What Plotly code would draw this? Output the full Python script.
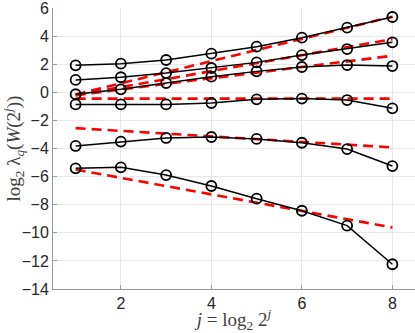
import plotly.graph_objects as go

# scale index j
j = [1, 2, 3, 4, 5, 6, 7, 8]

# log2 eigenvalues per q (top to bottom)
lam_1 = [1.92, 2.04, 2.30, 2.75, 3.25, 3.89, 4.60, 5.36]
lam_2 = [0.88, 1.07, 1.37, 1.73, 2.13, 2.65, 3.08, 3.56]
lam_3 = [-0.14, 0.21, 0.66, 1.11, 1.49, 1.80, 1.94, 1.87]
lam_4 = [-0.86, -0.86, -0.86, -0.76, -0.50, -0.45, -0.55, -1.14]
lam_5 = [-3.82, -3.51, -3.25, -3.18, -3.32, -3.59, -4.04, -5.25]
lam_6 = [-5.41, -5.34, -5.89, -6.67, -7.57, -8.43, -9.49, -12.24]

# linear fits: value at j=1 and j=8
fit_j = [1, 8]
fit_1 = [-0.15, 5.38]
fit_2 = [-0.2, 3.78]
fit_3 = [-0.2, 2.6]
fit_4 = [-0.45, -0.45]
fit_5 = [-2.55, -3.92]
fit_6 = [-5.5, -9.62]

fig = go.Figure()

# red dashed fits (drawn first, black on top)
for f in [fit_1, fit_2, fit_3, fit_4, fit_5, fit_6]:
    fig.add_trace(go.Scatter(
        x=fit_j, y=f, mode='lines',
        line=dict(color='#ff0000', width=2.6, dash='10px,6px'),
        showlegend=False
    ))

for lam in [lam_1, lam_2, lam_3, lam_4, lam_5, lam_6]:
    fig.add_trace(go.Scatter(
        x=j, y=lam, mode='lines+markers',
        line=dict(color='black', width=1.5),
        marker=dict(symbol='circle-open', size=10, color='black',
                    line=dict(width=1.8, color='black')),
        showlegend=False
    ))

title_font = dict(family='Liberation Serif, DejaVu Serif, serif', size=19, color='#404040')

fig.update_layout(
    width=415, height=333,
    margin=dict(l=53, r=0, t=8, b=44),
    paper_bgcolor='white',
    plot_bgcolor='white',
    font=dict(family='Liberation Sans, Arial, sans-serif', size=16, color='#262626'),
    xaxis=dict(
        range=[0.5, 8.5],
        tickvals=[2, 4, 6, 8],
        automargin=False,
        ticklabeloverflow='allow',
        showgrid=True, gridcolor='#e8e8e8', gridwidth=1,
        zeroline=False,
        showline=True, linecolor='#9a9a9a', linewidth=1,
        ticks='inside', ticklen=4, tickcolor='#9a9a9a',
        title=dict(
            text='<i>j</i> = log<sub>2</sub> 2<sup><i>j</i></sup>',
            font=title_font,
            standoff=3
        )
    ),
    yaxis=dict(
        range=[-14, 6],
        tickvals=[-14, -12, -10, -8, -6, -4, -2, 0, 2, 4, 6],
        automargin=False,
        ticklabeloverflow='allow',
        showgrid=True, gridcolor='#e8e8e8', gridwidth=1,
        zeroline=False,
        showline=True, linecolor='#9a9a9a', linewidth=1,
        ticks='inside', ticklen=4, tickcolor='#9a9a9a',
        title=dict(
            text='log<sub>2</sub> λ<sub><i>q</i></sub>(<i>W</i>(2<sup><i>j</i></sup>))',
            font=title_font,
            standoff=0
        )
    )
)

# drop the default body margin so the figure sits at the window corner
fig.write_html("out.html", config={'displayModeBar': False},
               post_script="document.body.style.margin='0';")
